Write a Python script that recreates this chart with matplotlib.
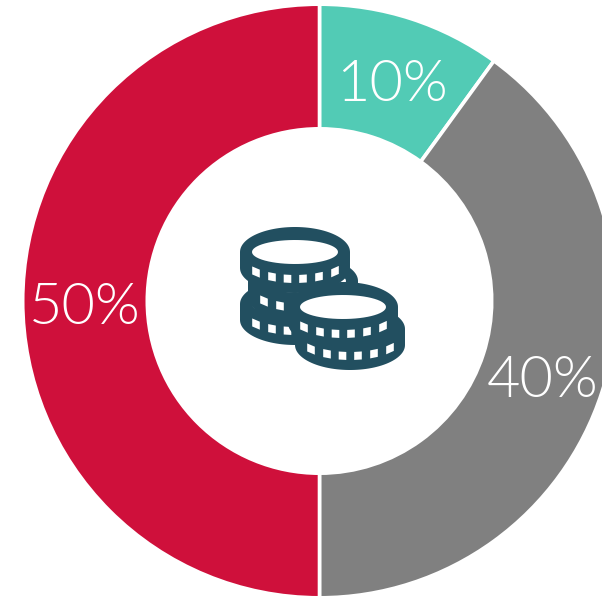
import numpy as np
import matplotlib.pyplot as plt
import matplotlib.font_manager as fm
from matplotlib.patches import Polygon

W, H = 602, 597

shares = [10, 40, 50]
slice_colors = ['#52CBB5', '#808080', '#CF103B']
text_color = 'white'
icon_color = '#224F60'

cx, cy = 319.5, 301
r_out, r_in = 296.8, 172.2

# coin stack, back to front, in pixels from the top left corner
coins_x = [295, 303, 295, 350, 343]
coins_y = [304, 281, 252, 329, 307]
tick_dx = [-39, -23, -7.5, 8, 24, 40]

# the light cut of Lato, found by file name since the weights are labelled loosely
light = [f.fname for f in fm.fontManager.ttflist if f.fname.endswith('Lato-Light.ttf')]
if light:
    label_font = fm.FontProperties(fname=light[0], size=41.5)
else:
    label_font = fm.FontProperties(family='Lato', size=41.5)

fig = plt.figure(figsize=(W/100, H/100), dpi=100)
ax = fig.add_axes([0, 0, 1, 1])

wedges, _, pct = ax.pie(shares, colors=slice_colors, startangle=90, counterclock=False,
                        center=(cx, H-cy-8), radius=r_out, autopct='%d%%', pctdistance=235/r_out,
                        wedgeprops=dict(width=r_out-r_in, edgecolor='white', linewidth=2.6))
for t in pct:
    t.set_color(text_color)
    t.set_fontproperties(label_font)

# only the labels sit lower, the ring goes back to its centre
for w in wedges:
    w.set_center((cx, H-cy))

ax.set_xlim(0, W)
ax.set_ylim(0, H)
ax.set_aspect('equal')
ax.axis('off')


def coin(x, y, z):
    rx, ry, side = 55, 25, 16
    a = np.linspace(0, np.pi, 60)
    top = np.c_[x+rx*np.cos(a), H-y+ry*np.sin(a)]
    bot = np.c_[x-rx*np.cos(a), H-y-side-ry*np.sin(a)]
    ax.add_patch(Polygon(np.r_[top, bot], color=icon_color, lw=0, zorder=z))

    a = np.linspace(0, 2*np.pi, 60)
    hole = np.c_[x+43*np.cos(a), H-y+12*np.sin(a)]
    ax.add_patch(Polygon(hole, color='white', lw=0, zorder=z+0.1))

    for d in tick_dx:
        xs = np.array([d-3.8, d+3.8])
        arc = H-y-23*np.sqrt(1-(xs/55)**2)
        sq = [(x+xs[0], arc[0]), (x+xs[1], arc[1]), (x+xs[1], arc[1]-8), (x+xs[0], arc[0]-8)]
        ax.add_patch(Polygon(sq, color='white', lw=0, zorder=z+0.1))


for i in range(len(coins_x)):
    coin(coins_x[i], coins_y[i], 5+i)

fig.savefig('out.png', dpi=100)
